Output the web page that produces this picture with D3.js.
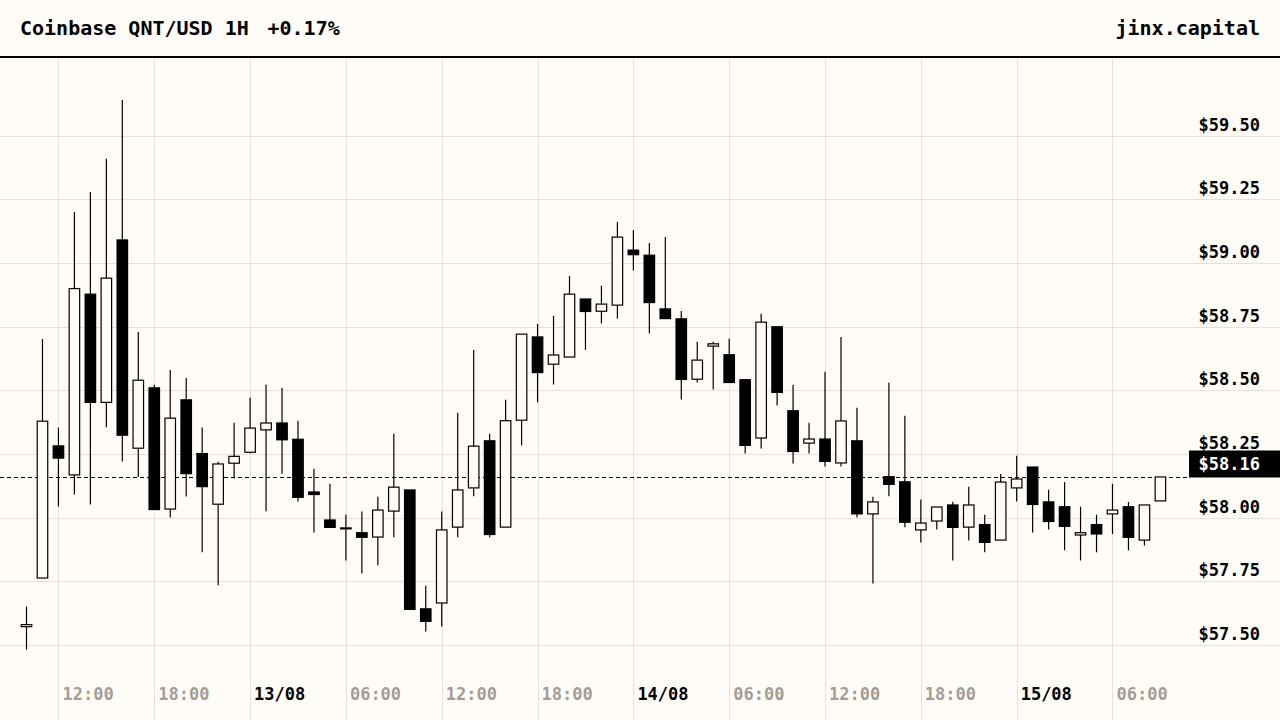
<!DOCTYPE html>
<html>
<head>
<meta charset="utf-8">
<script src="https://cdn.jsdelivr.net/npm/d3@7/dist/d3.min.js"></script>
<style>
  html, body { margin: 0; padding: 0; background: #fffcf7; }
  svg { display: block; }
  text { font-family: "DejaVu Sans Mono", monospace; font-weight: bold; }
</style>
</head>
<body>
<svg id="chart" width="1280" height="720"></svg>
<script>
// ---- Data (hourly candles, 12/08 10:00 -> 15/08 09:00 UTC) ----
const startTime = new Date(Date.UTC(2024, 7, 12, 10));
const endTime = new Date(Date.UTC(2024, 7, 15, 9));
const openValues = [57.572,57.763,58.282,58.168,58.878,58.453,59.091,58.273,58.510,58.034,58.463,58.252,58.053,58.214,58.257,58.345,58.372,58.308,58.101,57.991,57.960,57.941,57.924,58.026,58.109,57.642,57.665,57.963,58.117,58.302,57.963,58.383,58.710,58.603,58.631,58.859,58.811,58.835,59.051,59.031,58.820,58.781,58.544,58.674,58.640,58.542,58.313,58.750,58.420,58.293,58.309,58.215,58.302,58.015,58.161,58.141,57.952,57.987,58.050,57.963,57.973,57.912,58.117,58.199,58.062,58.043,57.932,57.973,58.015,58.043,57.912,58.066];
const highValues = [57.651,58.702,58.354,59.201,59.279,59.410,59.641,58.729,58.522,58.580,58.549,58.354,58.220,58.373,58.471,58.522,58.510,58.381,58.192,58.133,58.012,58.024,58.082,58.330,58.109,57.733,58.024,58.412,58.659,58.330,58.463,58.721,58.761,58.793,58.950,58.859,58.911,59.162,59.130,59.079,59.103,58.812,58.691,58.691,58.703,58.542,58.801,58.750,58.522,58.373,58.573,58.710,58.432,58.082,58.530,58.400,58.071,58.042,58.063,58.122,58.012,58.172,58.243,58.199,58.110,58.140,58.043,58.012,58.133,58.062,58.050,58.160];
const lowValues = [57.482,57.763,58.044,58.091,58.052,58.355,58.221,58.160,58.032,58.001,58.083,57.864,57.735,58.154,58.253,58.025,58.173,58.064,57.942,57.962,57.832,57.781,57.813,57.923,57.640,57.553,57.573,57.923,58.084,57.923,57.963,58.284,58.453,58.523,58.631,58.659,58.763,58.782,58.971,58.723,58.782,58.464,58.531,58.504,58.531,58.252,58.272,58.441,58.213,58.252,58.201,58.201,58.001,57.742,58.084,57.962,57.903,57.954,57.832,57.910,57.864,57.912,58.064,57.942,57.954,57.872,57.832,57.864,57.936,57.872,57.891,58.066];
const closeValues = [57.580,58.379,58.234,58.900,58.453,58.941,58.324,58.540,58.032,58.391,58.173,58.122,58.211,58.241,58.352,58.372,58.306,58.080,58.091,57.962,57.960,57.923,58.030,58.120,57.640,57.593,57.952,58.109,58.281,57.934,58.381,58.721,58.570,58.639,58.878,58.810,58.839,59.102,59.033,58.845,58.782,58.543,58.619,58.683,58.531,58.284,58.768,58.492,58.260,58.309,58.221,58.380,58.015,58.062,58.131,57.982,57.979,58.042,57.962,58.050,57.903,58.140,58.152,58.052,57.985,57.966,57.941,57.936,58.030,57.923,58.050,58.160];
const priceTicks = [57.50, 57.75, 58.00, 58.25, 58.50, 58.75, 59.00, 59.25, 59.50];
const titleText = "Coinbase QNT/USD 1H";
const changeText = "+0.17%";
const brandText = "jinx.capital";
const lastPrice = 58.16;

const times = d3.utcHour.range(startTime, d3.utcHour.offset(endTime, 1));
const candles = times.map((t, i) => ({
  t, o: openValues[i], h: highValues[i], l: lowValues[i], c: closeValues[i]
}));

// ---- Layout ----
const W = 1280, H = 720;
const bg = "#fffcf7";
const gridColor = "#e4e1dc";
const plotTop = 58;

const x = d3.scaleUtc().domain([startTime, endTime]).range([26.5, 1160.4]);
const y = d3.scaleLinear().domain([57.5, 59.5]).range([645, 135.8]);

const svg = d3.select("#chart");
svg.append("rect").attr("width", W).attr("height", H).attr("fill", bg);

// vertical grid + x labels
const xTicks = d3.utcHour.every(6).range(startTime, endTime);
const gGrid = svg.append("g");
gGrid.selectAll("line.v").data(xTicks).join("line")
  .attr("x1", d => Math.round(x(d)) + 0.5).attr("x2", d => Math.round(x(d)) + 0.5)
  .attr("y1", plotTop).attr("y2", H)
  .attr("stroke", gridColor).attr("stroke-width", 1);

gGrid.selectAll("line.h").data(priceTicks).join("line")
  .attr("x1", 0).attr("x2", W)
  .attr("y1", d => Math.round(y(d)) + 0.5).attr("y2", d => Math.round(y(d)) + 0.5)
  .attr("stroke", gridColor).attr("stroke-width", 1);

const fmtDate = d3.utcFormat("%d/%m");
const fmtTime = d3.utcFormat("%H:%M");
svg.append("g").selectAll("text").data(xTicks).join("text")
  .attr("x", d => x(d) + 4)
  .attr("y", 700)
  .attr("font-size", 17)
  .attr("fill", d => d.getUTCHours() === 0 ? "#000" : "#a39d97")
  .text(d => d.getUTCHours() === 0 ? fmtDate(d) : fmtTime(d));

// price labels
svg.append("g").selectAll("text").data(priceTicks).join("text")
  .attr("x", 1260).attr("y", d => y(d) - 5)
  .attr("text-anchor", "end")
  .attr("font-size", 17)
  .attr("fill", "#000")
  .text(d => "$" + d3.format(".2f")(d));

// last price dashed line
const ly = Math.round(y(lastPrice)) + 0.5;
svg.append("line")
  .attr("x1", 0).attr("x2", 1189)
  .attr("y1", ly).attr("y2", ly)
  .attr("stroke", "#000").attr("stroke-width", 1)
  .attr("stroke-dasharray", "4,3");

// candles
const bodyW = 10.5;
const gC = svg.append("g");
const cg = gC.selectAll("g").data(candles).join("g");
cg.append("line")
  .attr("x1", d => x(d.t)).attr("x2", d => x(d.t))
  .attr("y1", d => y(d.h)).attr("y2", d => y(d.l))
  .attr("stroke", "#000").attr("stroke-width", 1.2);
cg.append("rect")
  .attr("x", d => x(d.t) - bodyW / 2)
  .attr("width", bodyW)
  .attr("y", d => y(Math.max(d.o, d.c)))
  .attr("height", d => Math.max(1, Math.abs(y(d.o) - y(d.c))))
  .attr("fill", d => d.c >= d.o ? bg : "#000")
  .attr("stroke", "#000").attr("stroke-width", 1.2);

// last price box
svg.append("rect")
  .attr("x", 1189).attr("y", ly - 27)
  .attr("width", W - 1189).attr("height", 27)
  .attr("fill", "#000");
svg.append("text")
  .attr("x", 1260).attr("y", ly - 7.5)
  .attr("text-anchor", "end").attr("font-size", 17)
  .attr("fill", "#fff")
  .text("$" + d3.format(".2f")(lastPrice));

// header
svg.append("rect").attr("x", 0).attr("y", 0).attr("width", W).attr("height", 56).attr("fill", bg);
svg.append("line").attr("x1", 0).attr("x2", W).attr("y1", 57).attr("y2", 57)
  .attr("stroke", "#000").attr("stroke-width", 2);
svg.append("text").attr("x", 20).attr("y", 35).attr("font-size", 20).attr("fill", "#000").text(titleText);
svg.append("text").attr("x", 267.5).attr("y", 35).attr("font-size", 20).attr("fill", "#000").text(changeText);
svg.append("text").attr("x", 1260).attr("y", 35).attr("text-anchor", "end").attr("font-size", 20).attr("fill", "#000").text(brandText);
</script>
</body>
</html>
